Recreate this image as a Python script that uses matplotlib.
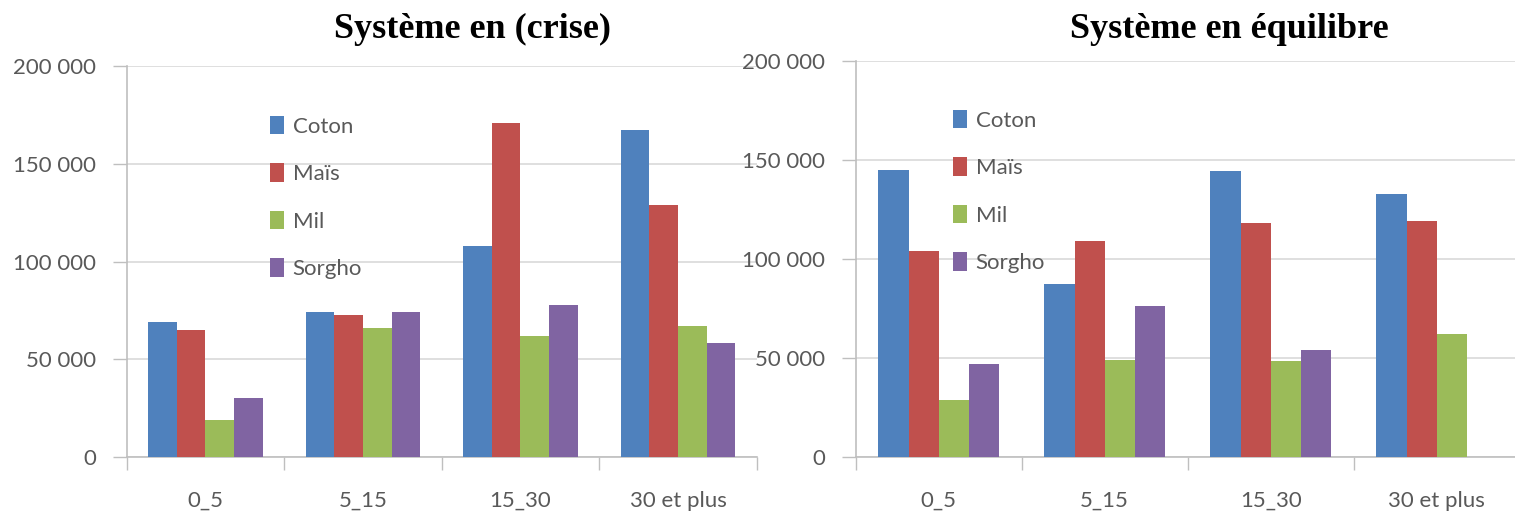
import numpy as np
import matplotlib
matplotlib.use("Agg")
import matplotlib.pyplot as plt
from matplotlib.ticker import FuncFormatter

categories = ["0_5", "5_15", "15_30", "30 et plus"]
series = ["Coton", "Maïs", "Mil", "Sorgho"]
colors = ["#4F81BD", "#C0504D", "#9BBB59", "#8064A2"]

# Système en (crise)
crise_coton = [69300, 74000, 107900, 167000]
crise_mais = [64900, 72700, 170900, 129000]
crise_mil = [19100, 66200, 62100, 67100]
crise_sorgho = [30100, 74400, 77800, 58200]

# Système en équilibre
equi_coton = [145200, 87400, 144500, 132800]
equi_mais = [104300, 109400, 118000, 119300]
equi_mil = [28700, 49300, 48600, 62100]
equi_sorgho = [47300, 76500, 54200, 0]

yticks = [0, 50000, 100000, 150000, 200000]

tick_font = "Lato"
tick_color = "#595959"
axis_color = "#BFBFBF"
grid_color = "#D9D9D9"

W, H = 1515, 514
fig = plt.figure(figsize=(W / 100, H / 100), dpi=100)


def fmt(v, pos):
    return f"{int(v):,}".replace(",", " ")


def draw(ax, data, legend_xy):
    n = len(data)
    w = 1 / (n + 1.5)
    x = np.arange(len(categories)) + 0.5
    handles = []
    for k, (vals, c) in enumerate(zip(data, colors)):
        b = ax.bar(x + (k - (n - 1) / 2) * w, vals, width=w, color=c,
                   linewidth=0, zorder=3)
        handles.append(b)
    ax.set_xlim(0, len(categories))
    ax.set_ylim(0, 200000)
    ax.set_yticks(yticks)
    ax.yaxis.set_major_formatter(FuncFormatter(fmt))
    ax.set_xticks(np.arange(len(categories) + 1))
    ax.set_xticklabels([])
    ax.set_xticks(x, minor=True)
    ax.set_xticklabels(categories, minor=True)
    ax.tick_params(axis="x", which="minor", length=0, pad=24)
    ax.tick_params(axis="x", which="major", length=9, width=1,
                   color=axis_color, direction="out")
    ax.tick_params(axis="y", length=10, width=1, color=axis_color,
                   pad=12, direction="out")
    for lab in ax.get_xticklabels(minor=True) + ax.get_yticklabels():
        lab.set_fontfamily(tick_font)
        lab.set_fontsize(16)
        lab.set_color(tick_color)
    ax.grid(axis="y", color=grid_color, linewidth=1.2, zorder=0)
    ax.set_axisbelow(True)
    for s in ["top", "right"]:
        ax.spines[s].set_visible(False)
    for s in ["left", "bottom"]:
        ax.spines[s].set_color(axis_color)
        ax.spines[s].set_linewidth(1.2)
    ax.legend(handles, series, loc="upper left", bbox_to_anchor=legend_xy,
              frameon=False, borderpad=0, borderaxespad=0,
              handlelength=0.6, handleheight=0.9, handletextpad=0.4,
              labelspacing=1.2,
              prop={"family": tick_font, "size": 16},
              labelcolor=tick_color)


ax1 = fig.add_axes([126.7 / W, 1 - 457.3 / H, 630 / W, (457.3 - 65.7) / H])
draw(ax1, [crise_coton, crise_mais, crise_mil, crise_sorgho], (0.228, 0.872))

ax2 = fig.add_axes([855.7 / W, 1 - 457.3 / H, 664 / W, (457.3 - 61) / H])
draw(ax2, [equi_coton, equi_mais, equi_mil, equi_sorgho], (0.147, 0.877))

fig.text(472 / W, 1 - 29 / H, "Système en (crise)", ha="center", va="center",
         family="Liberation Serif", weight="bold", fontsize=26)
fig.text(1229 / W, 1 - 29 / H, "Système en équilibre", ha="center",
         va="center", family="Liberation Serif", weight="bold", fontsize=26)

fig.savefig("out.png", dpi=100)
